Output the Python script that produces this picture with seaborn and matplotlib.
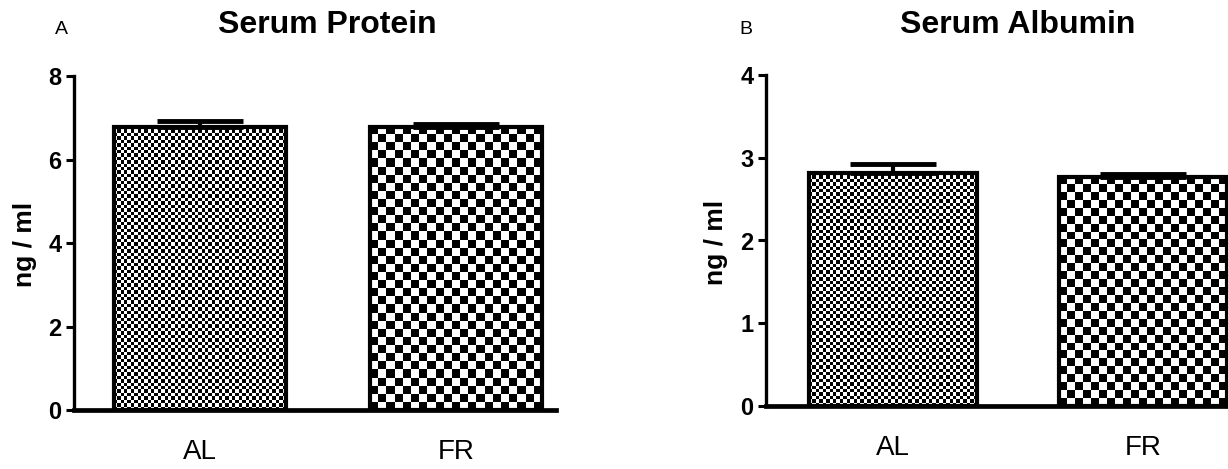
import numpy as np
import pandas as pd
import matplotlib
matplotlib.use("Agg")
import matplotlib.pyplot as plt
import seaborn as sns

# datos
groups = ["AL", "FR"]
protein_mean = [6.78, 6.78]
protein_sem = [0.15, 0.07]
albumin_mean = [2.82, 2.77]
albumin_sem = [0.11, 0.035]

sns.set_theme(style="white")
plt.rcParams["font.family"] = ["Liberation Sans", "DejaVu Sans"]
plt.rcParams["text.color"] = "black"
plt.rcParams["xtick.color"] = "black"
plt.rcParams["ytick.color"] = "black"
plt.rcParams["axes.labelcolor"] = "black"

W, H = 1228, 469
fig = plt.figure(figsize=(W / 100, H / 100), dpi=100)

def box(l, r, b, t):
    return [l / W, 1 - b / H, (r - l) / W, (b - t) / H]

ax_a = fig.add_axes(box(74, 556, 410, 76))
ax_b = fig.add_axes(box(766, 1228, 406, 75))

# tama√±o de celda (px) de cada textura de cuadros
cells = {"AL": 3.4, "FR": 8.0}

def checker(nx, ny):
    i, j = np.indices((ny, nx))
    return ((i + j) % 2).astype(float)

def panel(ax, means, sems, ymax, yticks, xlim, title, letter, letter_x, title_x, ylab_x, ylab_y):
    df = pd.DataFrame({"grupo": groups, "valor": means})
    sns.barplot(data=df, x="grupo", y="valor", color="white", width=0.67,
                edgecolor="black", linewidth=3, errorbar=None, ax=ax)
    ax.errorbar(range(len(groups)), means, yerr=[[0] * len(sems), sems],
                fmt="none", ecolor="black", elinewidth=3, capsize=31,
                capthick=3.5, zorder=3)
    ax.set_xlim(*xlim)
    ax.set_ylim(0, ymax)
    fig.canvas.draw()
    for patch, g in zip(ax.patches, groups):
        x0, y0 = patch.get_x(), patch.get_y()
        w, h = patch.get_width(), patch.get_height()
        p0 = ax.transData.transform((x0, y0))
        p1 = ax.transData.transform((x0 + w, y0 + h))
        nx = max(1, int(round(abs(p1[0] - p0[0]) / cells[g])))
        ny = max(1, int(round(abs(p1[1] - p0[1]) / cells[g])))
        im = ax.imshow(checker(nx, ny), cmap="gray", vmin=0, vmax=1,
                       extent=(x0, x0 + w, y0, y0 + h), aspect="auto",
                       interpolation="nearest", zorder=1.5)
        im.set_clip_path(patch)
        patch.set_facecolor("none")
        patch.set_zorder(2)
    ax.set_xlim(*xlim)
    ax.set_ylim(0, ymax)
    ax.set_yticks(yticks)
    ax.set_yticklabels([str(t) for t in yticks], fontsize=17, fontweight="bold",
                       family=["Liberation Sans Narrow", "Liberation Sans"])
    ax.tick_params(axis="y", left=True, length=6, width=2.2, pad=3, color="black",
                   labelcolor="black")
    ax.tick_params(axis="x", bottom=False, labelsize=20, pad=15, labelcolor="black")
    ax.set_xlabel("")
    ax.set_ylabel("")
    for s in ["top", "right"]:
        ax.spines[s].set_visible(False)
    ax.spines["left"].set_linewidth(2.4)
    ax.spines["left"].set_color("black")
    ax.spines["bottom"].set_linewidth(3.4)
    ax.spines["bottom"].set_color("black")
    fig.text(ylab_x / W, 1 - ylab_y / H, "ng / ml", fontsize=19, fontweight="bold",
             rotation=90, ha="center", va="center", color="black")
    fig.text(title_x / W, 1 - 25 / H, title, fontsize=23, fontweight="bold",
             ha="center", va="center", color="black")
    fig.text(letter_x / W, 1 - 29 / H, letter, fontsize=14, ha="center", va="center",
             color="black")

panel(ax_a, protein_mean, protein_sem, 8, [0, 2, 4, 6, 8], (-0.49, 1.39),
      "Serum Protein", "A", 61, 327, 25, 244)
panel(ax_b, albumin_mean, albumin_sem, 4, [0, 1, 2, 3, 4], (-0.508, 1.34),
      "Serum Albumin", "B", 746, 1018, 716, 242)

fig.savefig("out.png", dpi=100)
